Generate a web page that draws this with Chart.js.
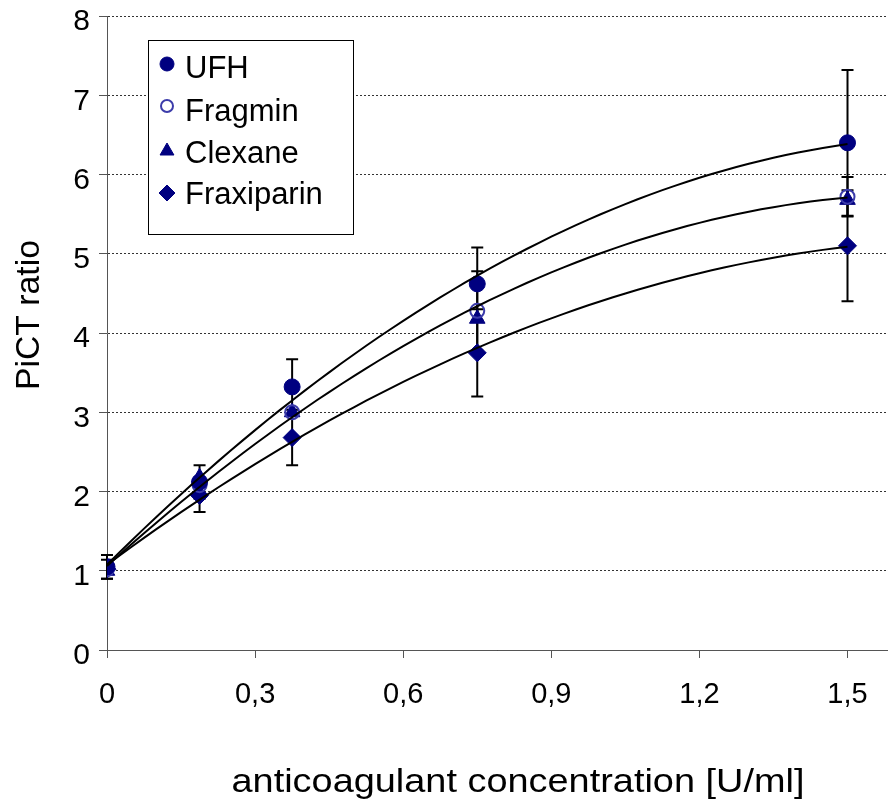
<!DOCTYPE html>
<html>
<head>
<meta charset="utf-8">
<script src="https://cdn.jsdelivr.net/npm/chart.js@4"></script>
<style>
  body { margin: 0; background: #fff; }
  canvas { display: block; }
</style>
</head>
<body>
<canvas id="myChart" width="888" height="801"></canvas>
<script>

const doses = [0, 0.1875, 0.375, 0.75, 1.5];

const ufh        = [1.05, 2.12, 3.32, 4.62, 6.40];
const fragmin    = [1.02, 2.08, 3.00, 4.28, 5.72];
const clexane    = [1.00, 2.18, 3.00, 4.18, 5.68];
const fraxiparin = [1.02, 1.95, 2.68, 3.75, 5.10];

// +/- error (SD)
const ufhErr        = [0.15, 0.21, 0.35, 0.46, 0.92];
const fragminErr    = [0, 0, 0, 0.50, 0.25];
const fraxiparinErr = [0.12, 0.21, 0.35, 0.55, 0.70];

const xTicks = [0, 0.3, 0.6, 0.9, 1.2, 1.5];

const navy = 'rgb(0, 0, 128)';
const FONT = '"Liberation Sans", Arial, sans-serif';

function pts(ys) {
  return doses.map((x, i) => ({ x: x, y: ys[i] }));
}

// 2nd order polynomial trendline (least squares), like the spreadsheet did
function polyfit2(xs, ys) {
  let s = [0, 0, 0, 0, 0], t = [0, 0, 0];
  for (let i = 0; i < xs.length; i++) {
    let p = 1;
    for (let k = 0; k < 5; k++) { s[k] += p; if (k < 3) t[k] += p * ys[i]; p *= xs[i]; }
  }
  const m = [[s[0], s[1], s[2], t[0]], [s[1], s[2], s[3], t[1]], [s[2], s[3], s[4], t[2]]];
  for (let i = 0; i < 3; i++) {
    for (let j = i + 1; j < 3; j++) {
      const f = m[j][i] / m[i][i];
      for (let k = i; k < 4; k++) m[j][k] -= f * m[i][k];
    }
  }
  const c = [0, 0, 0];
  for (let i = 2; i >= 0; i--) {
    let v = m[i][3];
    for (let k = i + 1; k < 3; k++) v -= m[i][k] * c[k];
    c[i] = v / m[i][i];
  }
  return c;
}

function trend(ys) {
  const c = polyfit2(doses, ys);
  const out = [];
  for (let i = 0; i <= 60; i++) {
    const x = 1.5 * i / 60;
    out.push({ x: x, y: c[0] + c[1] * x + c[2] * x * x });
  }
  return {
    data: out, showLine: true, borderColor: '#000', borderWidth: 2,
    pointRadius: 0, fill: false, tension: 0
  };
}

const series = [
  { label: 'UFH', data: pts(ufh), err: ufhErr, pointStyle: 'circle', pointRadius: 8,
    backgroundColor: navy, borderColor: navy, borderWidth: 1 },
  { label: 'Fragmin', data: pts(fragmin), err: fragminErr, pointStyle: 'circle', pointRadius: 7,
    backgroundColor: 'rgba(0,0,0,0)', borderColor: 'rgb(60, 60, 170)', borderWidth: 2 },
  { label: 'Clexane', data: pts(clexane), pointStyle: 'triangle', pointRadius: 9,
    backgroundColor: navy, borderColor: navy, borderWidth: 1 },
  { label: 'Fraxiparin', data: pts(fraxiparin), err: fraxiparinErr, pointStyle: 'rectRot', pointRadius: 9,
    backgroundColor: navy, borderColor: navy, borderWidth: 1 },
];

const errorBars = {
  id: 'errorBars',
  beforeDatasetsDraw(chart) {
    const ctx = chart.ctx, xs = chart.scales.x, ys = chart.scales.y;
    ctx.save();
    ctx.strokeStyle = '#000';
    ctx.lineWidth = 2;
    series.forEach(s => {
      if (!s.err) return;
      s.data.forEach((p, i) => {
        const e = s.err[i];
        if (!e) return;
        const x = xs.getPixelForValue(p.x);
        const y1 = ys.getPixelForValue(p.y + e), y2 = ys.getPixelForValue(p.y - e);
        ctx.beginPath();
        ctx.moveTo(x, y1); ctx.lineTo(x, y2);
        ctx.moveTo(x - 6, y1); ctx.lineTo(x + 6, y1);
        ctx.moveTo(x - 6, y2); ctx.lineTo(x + 6, y2);
        ctx.stroke();
      });
    });
    ctx.restore();
  }
};

// text stretched to a given length, as in the original picture
function stretchedText(ctx, txt, size, len) {
  ctx.font = size + 'px ' + FONT;
  const w = ctx.measureText(txt).width;
  ctx.save();
  ctx.scale(len / w, 1);
  ctx.fillText(txt, 0, 0);
  ctx.restore();
}

const extras = {
  id: 'extras',
  afterDraw(chart) {
    const ctx = chart.ctx;
    ctx.save();
    // legend box
    ctx.fillStyle = '#fff';
    ctx.fillRect(148, 40, 205, 194);
    ctx.strokeStyle = '#000';
    ctx.lineWidth = 1;
    ctx.strokeRect(148.5, 40.5, 205, 194);
    const rows = [64, 106, 151, 193];
    series.forEach((s, i) => {
      const y = rows[i];
      ctx.fillStyle = s.backgroundColor;
      ctx.strokeStyle = s.borderColor;
      ctx.lineWidth = s.borderWidth;
      Chart.helpers.drawPoint(ctx, { pointStyle: s.pointStyle, radius: s.pointRadius - 1, borderWidth: s.borderWidth, rotation: 0 }, 167, y);
      ctx.fillStyle = '#000';
      ctx.font = '31px ' + FONT;
      ctx.textBaseline = 'alphabetic';
      ctx.textAlign = 'left';
      ctx.fillText(s.label, 185, [78, 121, 163, 204][i]);
    });
    // axis titles
    ctx.fillStyle = '#000';
    ctx.textAlign = 'center';
    ctx.textBaseline = 'alphabetic';
    ctx.save();
    ctx.translate(518, 792);
    stretchedText(ctx, 'anticoagulant concentration [U/ml]', 34, 573);
    ctx.restore();
    ctx.save();
    ctx.translate(39, 315);
    ctx.rotate(-Math.PI / 2);
    stretchedText(ctx, 'PiCT ratio', 33, 150);
    ctx.restore();
    ctx.restore();
  }
};

const datasets = [trend(ufh), trend(fragmin), trend(fraxiparin)].concat(series);

const config = {
  type: 'scatter',
  data: { datasets: datasets },
  options: {
    responsive: false,
    animation: false,
    layout: { autoPadding: false, padding: { top: 16, right: 1, left: 0, bottom: 0 } },
    plugins: { legend: { display: false }, tooltip: { enabled: false } },
    scales: {
      x: {
        type: 'linear', min: 0, max: 1.58,
        afterFit: s => { s.height = 151; s.paddingLeft = 0; s.paddingRight = 0; },
        afterBuildTicks: s => { s.ticks = xTicks.map(v => ({ value: v })); },
        ticks: {
          color: '#000', padding: 20,
          font: { size: 29, family: FONT },
          callback: v => String(Math.round(v * 10) / 10).replace('.', ','),
          maxRotation: 0
        },
        grid: { drawOnChartArea: false, drawTicks: true, tickLength: 8, tickColor: '#555' },
        border: { color: '#555', width: 1 }
      },
      y: {
        min: 0, max: 8,
        afterFit: s => { s.width = 107; s.paddingTop = 0; s.paddingBottom = 0; },
        ticks: {
          stepSize: 1, color: '#000', padding: 9, labelOffset: 6,
          font: { size: 30, family: FONT }
        },
        grid: { color: '#333', lineWidth: 1, tickLength: 8, tickColor: '#555', tickBorderDash: [] },
        border: { color: '#555', width: 1, dash: [2, 2] }
      }
    }
  },
  plugins: [errorBars, extras]
};

myChart = new Chart(document.getElementById('myChart'), config);
</script>
</body>
</html>
